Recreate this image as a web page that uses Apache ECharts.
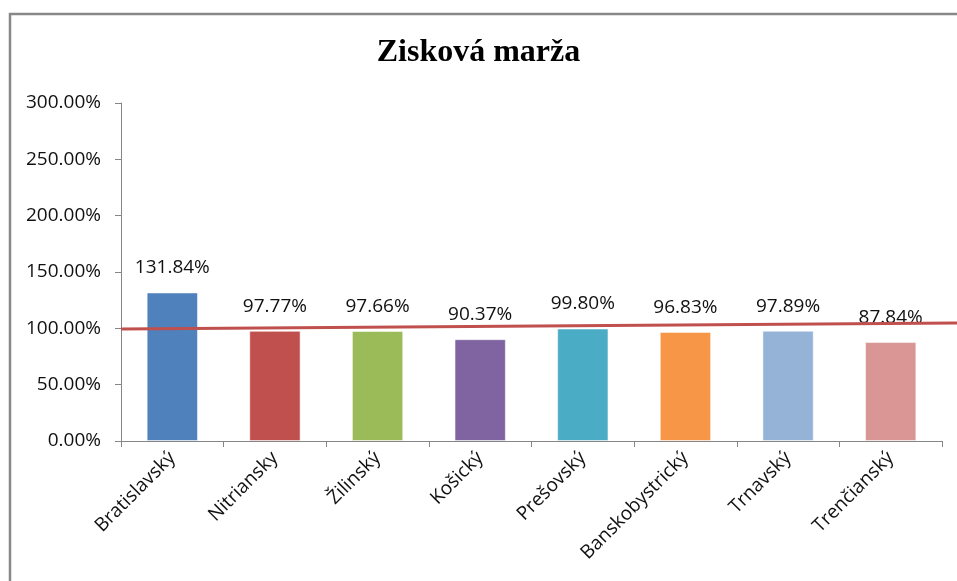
<!DOCTYPE html>
<html>
<head>
<meta charset="utf-8">
<script src="https://cdn.jsdelivr.net/npm/echarts@6/dist/echarts.min.js"></script>
<style>
  html, body { margin: 0; padding: 0; background: #fff; }
  #main { width: 957px; height: 581px; }
</style>
</head>
<body>
<div id="main"></div>
<script>
// kraje
var regions = ["Bratislavský", "Nitriansky", "Žilinský", "Košický", "Prešovský", "Banskobystrický", "Trnavský", "Trenčianský"];
// zisková marža v %
var margins = [131.84, 97.77, 97.66, 90.37, 99.80, 96.83, 97.89, 87.84];
var barColors = ["#4F81BD", "#C0504D", "#9BBB59", "#8064A2", "#4BACC6", "#F79646", "#95B3D7", "#D99694"];
var yTicks = [0, 50, 100, 150, 200, 250, 300];
// trendová čiara (začiatok a koniec, v jednotkách kategórií)
var trendX = [0, 8.15];
var trendY = [99.4, 104.7];

var font = "Open Sans";
var myChart = echarts.init(document.getElementById("main"));

var option = {
    animation: false,
    title: {
        text: "Zisková marža",
        left: "center",
        top: 32,
        textStyle: {
            fontFamily: "Liberation Serif",
            fontWeight: "bold",
            fontSize: 32,
            color: "#000"
        }
    },
    graphic: [{
        type: "rect",
        shape: { x: 10, y: 14, width: 1000, height: 700 },
        style: { fill: null, stroke: "#888", lineWidth: 2.5 },
        silent: true
    }],
    grid: [
        { left: 121, right: 15, top: 103, bottom: 140 },
        // druhá mriežka pre čiaru, ktorá presahuje až k okraju
        { left: 121, right: 0, top: 103, bottom: 140 }
    ],
    xAxis: [{
        type: "category",
        gridIndex: 0,
        data: regions,
        axisLine: { lineStyle: { color: "#868686", width: 1 } },
        axisTick: { show: true, length: 6, lineStyle: { color: "#868686" } },
        axisLabel: {
            rotate: 45,
            margin: 14,
            fontFamily: font,
            fontSize: 19,
            color: "#111"
        }
    }, {
        type: "value",
        gridIndex: 1,
        min: trendX[0],
        max: trendX[1],
        show: false
    }],
    yAxis: [{
        type: "value",
        gridIndex: 0,
        min: yTicks[0],
        max: yTicks[yTicks.length - 1],
        interval: 50,
        splitLine: { show: false },
        axisLine: { show: true, lineStyle: { color: "#868686", width: 1 } },
        axisTick: { show: true, length: 6, lineStyle: { color: "#868686" } },
        axisLabel: {
            margin: 20,
            fontFamily: font,
            fontSize: 19,
            color: "#111",
            formatter: function (v) { return v.toFixed(2) + "%"; }
        }
    }, {
        type: "value",
        gridIndex: 1,
        min: yTicks[0],
        max: yTicks[yTicks.length - 1],
        show: false
    }],
    series: [{
        type: "bar",
        barWidth: "50%",
        data: margins.map(function (v, i) {
            return { value: v, itemStyle: { color: barColors[i] } };
        }),
        itemStyle: { borderColor: "rgba(255,255,255,0.5)", borderWidth: 1 },
        label: {
            show: true,
            position: "top",
            distance: 15,
            fontFamily: font,
            fontSize: 19,
            color: "#111",
            formatter: function (p) { return p.value.toFixed(2) + "%"; }
        }
    }, {
        type: "line",
        xAxisIndex: 1,
        yAxisIndex: 1,
        clip: false,
        symbol: "none",
        z: 10,
        lineStyle: { color: "#C0504D", width: 3 },
        data: trendX.map(function (x, i) { return [x, trendY[i]]; })
    }]
};
myChart.setOption(option);
</script>
</body>
</html>
